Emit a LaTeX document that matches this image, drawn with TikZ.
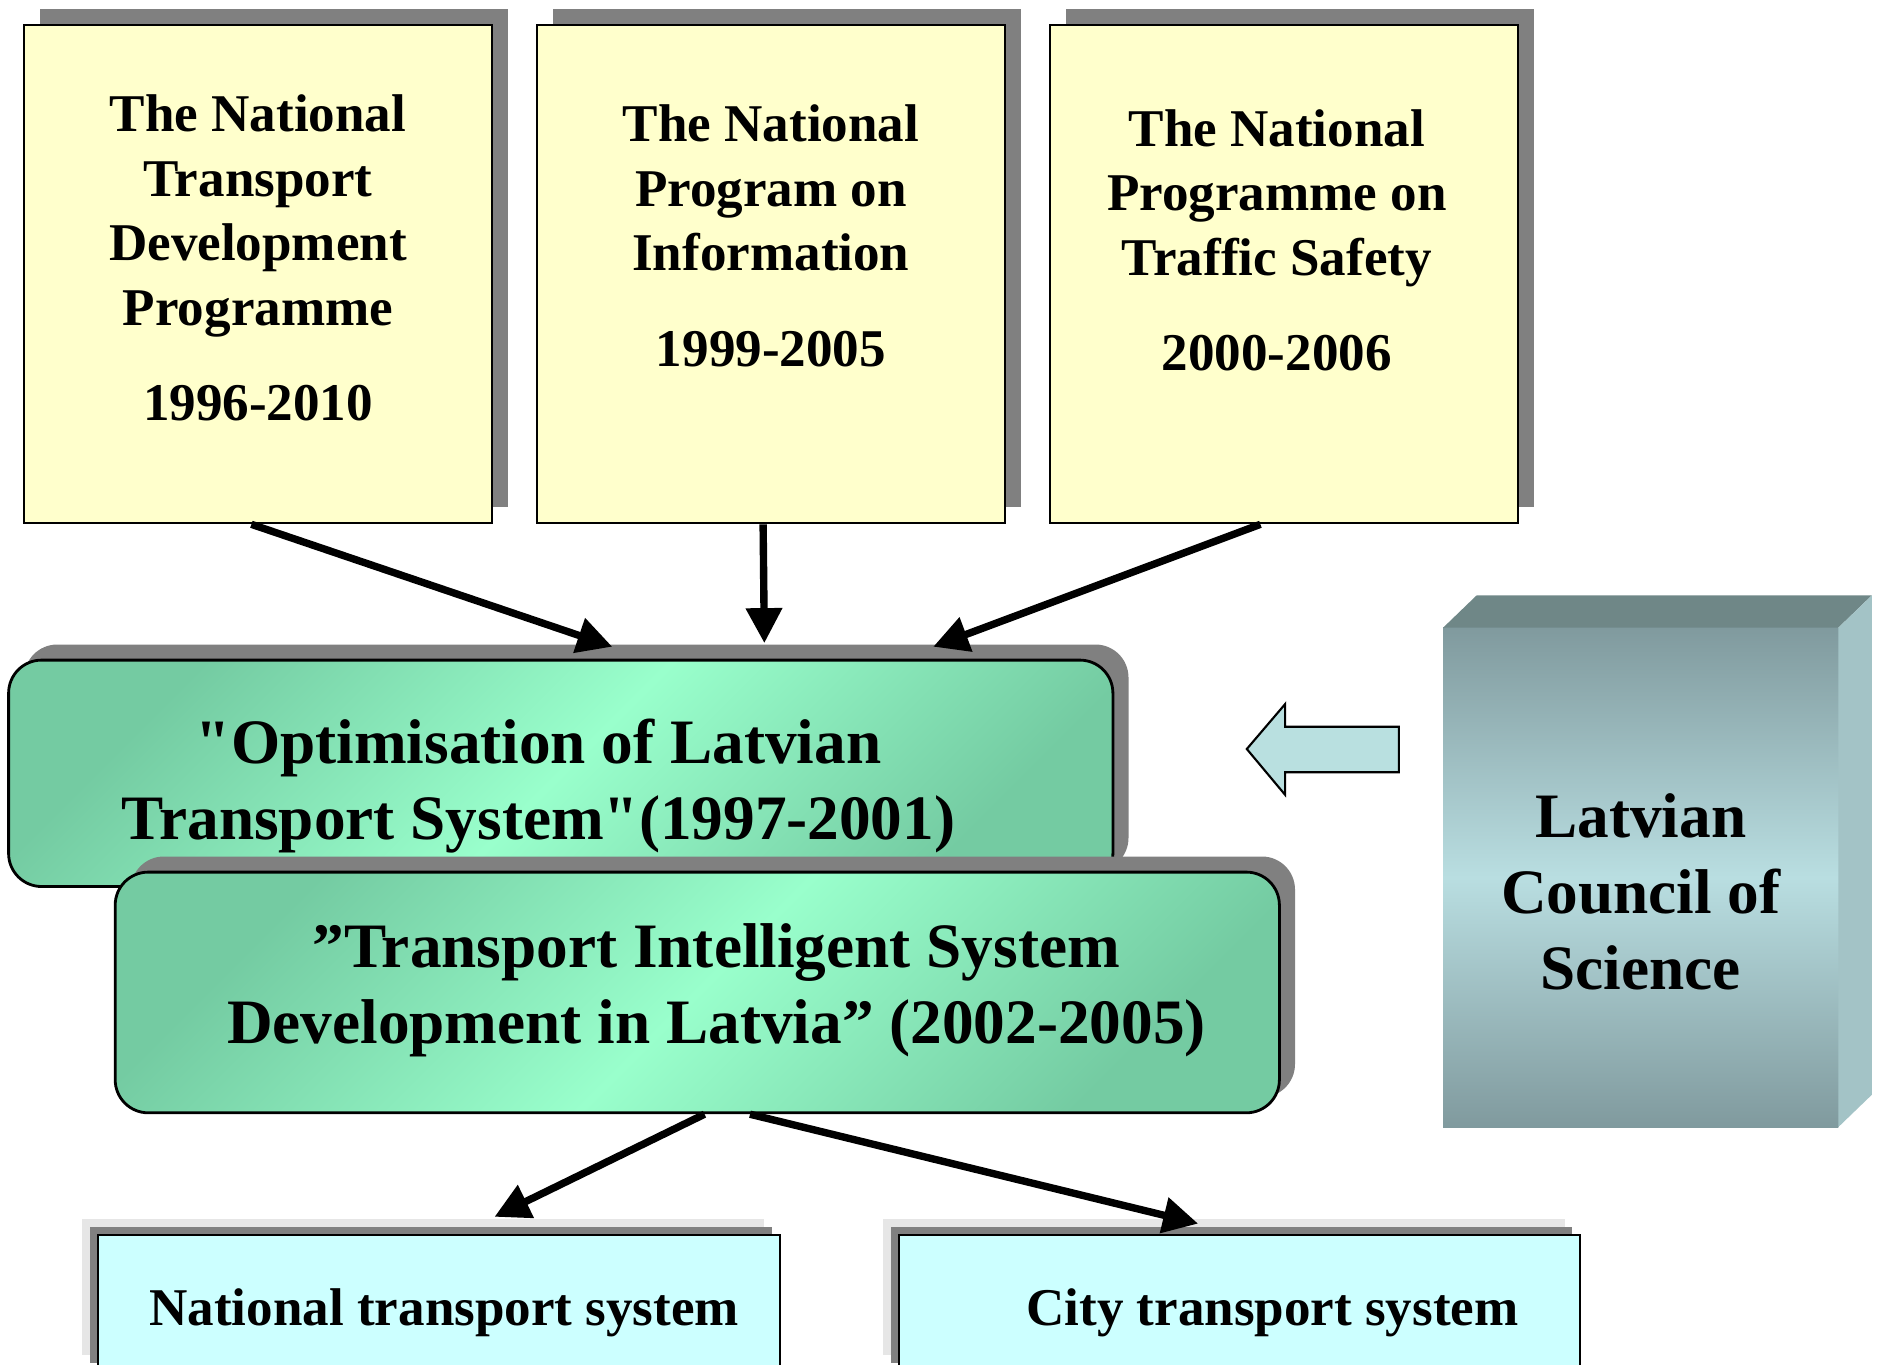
\documentclass[tikz,border=0pt]{standalone}
\usepackage{fontspec}
\setmainfont{Liberation Serif}[Ligatures=TeXOff]
\usepackage{tikz}
\usetikzlibrary{positioning}
\usetikzlibrary{shadows}
\usetikzlibrary{arrows.meta}

\definecolor{progyellow}{HTML}{FFFFCC}
\definecolor{shadowgray}{HTML}{808080}
\definecolor{lightshadow}{HTML}{E6E6E6}
\definecolor{mintlight}{HTML}{99FFCC}
\definecolor{mintdark}{HTML}{74CBA2}
\definecolor{syscyan}{HTML}{CCFFFF}
\definecolor{slatetop}{HTML}{6F8787}
\definecolor{slateside}{HTML}{A3C3C6}
\definecolor{slatedark}{HTML}{809A9E}
\definecolor{slatelight}{HTML}{B9DEE1}
\definecolor{blockblue}{HTML}{B9E0E0}

\begin{document}
\begin{tikzpicture}[
    node distance=0.425cm and 0.425cm,
    progbox/.style={draw,fill=progyellow,line width=0.6pt,minimum width=4.683cm,minimum height=4.982cm,inner sep=0pt,
        drop shadow={shadow xshift=0.16cm,shadow yshift=0.16cm,fill=shadowgray,opacity=1}},
    progtext/.style={align=center,inner sep=0pt,font=\fontsize{15.1}{18.4}\selectfont\bfseries},
    projbox/.style={draw,line width=0.8pt,rounded corners=0.33cm,inner sep=0pt,
        top color=mintdark,bottom color=mintdark,middle color=mintlight,shading angle=45,
        drop shadow={shadow xshift=0.156cm,shadow yshift=0.156cm,fill=shadowgray,opacity=1}},
    projtext/.style={align=center,inner sep=0pt,font=\fontsize{18}{21.6}\selectfont\bfseries},
    sysbox/.style={draw,fill=syscyan,line width=0.6pt,minimum width=6.815cm,minimum height=1.36cm,inner sep=0pt,
        drop shadow={shadow xshift=-0.156cm,shadow yshift=0.156cm,fill=lightshadow,opacity=1},
        drop shadow={shadow xshift=-0.078cm,shadow yshift=0.075cm,fill=shadowgray,opacity=1}},
    systext/.style={inner sep=0pt,font=\fontsize{15.1}{18.4}\selectfont\bfseries},
    arr/.style={line width=2.1pt,-{Triangle[length=0.35cm,width=0.35cm]}}
    ]

    \useasboundingbox (0,0) rectangle (18.78,-13.65);

    % national programmes
    \node[progbox,anchor=north west] (tp1) at (0.228,-0.240) {};
    \node[progbox,right=of tp1] (tp2) {};
    \node[progbox,right=of tp2] (tp3) {};

    \node[progtext,below=0.70cm of tp1.north] (tp1txt) {The National\\Transport\\Development\\Programme\\[8.7pt]1996-2010};
    \node[progtext,below=0.80cm of tp2.north] (tp2txt) {The National\\Program on\\Information\\[8.7pt]1999-2005};
    \node[progtext,below=0.846cm of tp3.north,xshift=-0.07cm] (tp3txt) {The National\\Programme on\\Traffic Safety\\[8.7pt]2000-2006};

    % research projects
    \node[projbox,minimum width=11.043cm,minimum height=2.264cm,anchor=north west] (opt) at (0.072,-6.587) {};
    \node[projtext] (opttxt) at ([xshift=-0.221cm,yshift=-0.131cm]opt.center) {"Optimisation of Latvian\\Transport System"(1997-2001)};

    \node[projbox,minimum width=11.642cm,minimum height=2.407cm,anchor=north west] (tis) at (1.138,-8.707) {};
    \node[projtext] (tistxt) at ([xshift=0.191cm,yshift=0.02cm]tis.center) {”Transport Intelligent System\\Development in Latvia” (2002-2005)};

    % council of science
    \node[inner sep=0pt,outer sep=0pt,minimum width=3.952cm,minimum height=4.994cm,anchor=north west,
        top color=slatedark,bottom color=slatedark,middle color=slatelight] (lcs) at (14.432,-6.276) {};
    \fill[slatetop] (lcs.north west) -- ++(0.335,0.323) -- ([shift={(0.335,0.323)}]lcs.north east) -- (lcs.north east) -- cycle;
    \fill[slateside] (lcs.north east) -- ++(0.335,0.323) -- ([shift={(0.335,0.323)}]lcs.south east) -- (lcs.south east) -- cycle;
    \node[projtext] (lcstxt) at ([yshift=-0.144cm]lcs.center) {Latvian\\Council of\\Science};

    \coordinate (blk) at (12.468,-7.49);
    \draw[fill=blockblue,line width=0.6pt] (blk) -- ++(0.383,0.449) -- ++(0,-0.226) -- ++(1.138,0)
        -- ++(0,-0.455) -- ++(-1.138,0) -- ++(0,-0.226) -- cycle;

    % transport systems
    \node[sysbox,anchor=north west] (nts) at (0.970,-12.336) {};
    \node[sysbox,right=1.17cm of nts] (cts) {};
    \node[systext] (ntstxt) at ([xshift=0.054cm,yshift=-0.794cm]nts.north) {National transport system};
    \node[systext] (ctstxt) at ([xshift=0.33cm,yshift=-0.794cm]cts.north) {City transport system};

    \draw[arr] ([xshift=-0.066cm]tp1.south) -- ([xshift=0.515cm,yshift=0.12cm]opt.north);
    \draw[arr] ([xshift=-0.078cm]tp2.south) -- ([xshift=2.036cm,yshift=0.156cm]opt.north);
    \draw[arr] ([xshift=-0.234cm]tp3.south) -- ([xshift=3.725cm,yshift=0.12cm]opt.north);
    \draw[arr] ([xshift=0.072cm]tis.south) -- ([xshift=0.557cm,yshift=0.168cm]nts.north);
    \draw[arr] ([xshift=0.527cm]tis.south) -- ([xshift=-0.413cm,yshift=0.1cm]cts.north);

\end{tikzpicture}
\end{document}
